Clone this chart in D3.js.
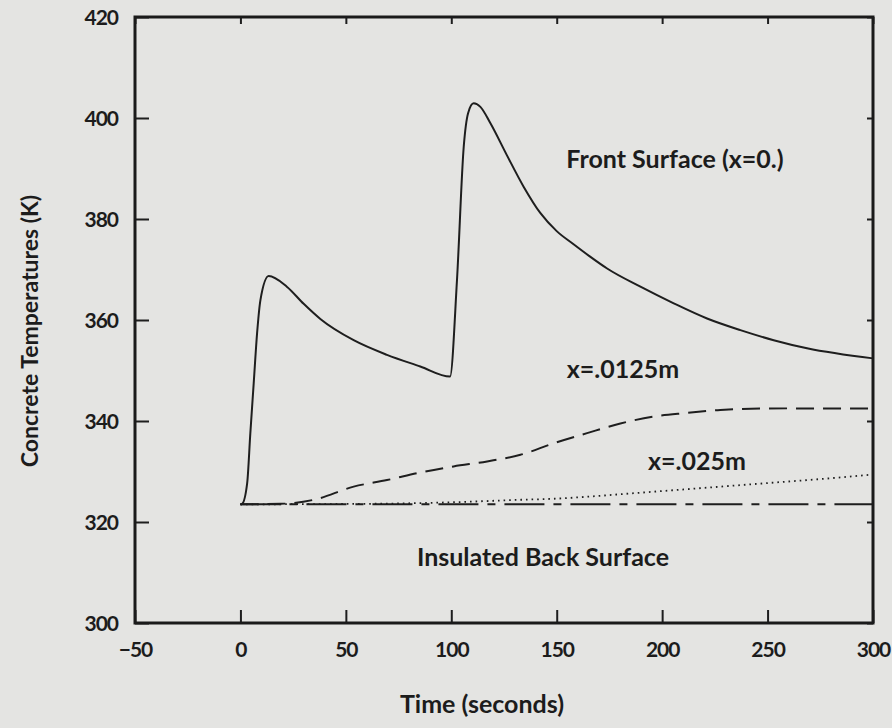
<!DOCTYPE html>
<html>
<head>
<meta charset="utf-8">
<script src="https://cdnjs.cloudflare.com/ajax/libs/d3/7.8.5/d3.min.js"></script>
<style>
  html, body { margin: 0; padding: 0; background: #e4e4e2; }
  svg { display: block; }
  text { font-family: Lato, "DejaVu Sans", sans-serif; fill: #1c1c1c; }
</style>
</head>
<body>
<div id="chart"></div>
<script>
// tick labels
var xTicks = [-50, 0, 50, 100, 150, 200, 250, 300];
var yTicks = [300, 320, 340, 360, 380, 400, 420];

// front surface (x=0.)
var frontTime = [0, 0.8, 3.2, 4.7, 6.3, 7.9, 9.5, 13.4, 22, 30, 37.9, 53.7, 69.5, 85.3, 99.4,
                 102.7, 105.9, 108, 110.6, 113.8, 118.5, 126.4, 134.3, 142.2, 150, 158, 166, 173.9,
                 189.7, 205.5, 221.3, 237.1, 252.9, 268.7, 300];
var frontTemp = [323.5, 323.6, 327.7, 337.6, 347.5, 357.4, 364, 368.7, 366.6, 363.2, 360.2, 356, 353.1, 350.8, 348.8,
                 367.9, 394.3, 401, 402.9, 402.2, 399, 392.6, 386.4, 381.2, 377.6, 375.0, 372.5, 370.2,
                 366.6, 363.3, 360.3, 358, 356, 354.4, 352.4];

// x=.0125m
var midTime = [0, 19, 34.8, 53.7, 69.5, 85.3, 101.1, 117, 132.8, 148.6, 164.4, 180.2, 196, 211.8, 227.6, 259.2, 300];
var midTemp = [323.5, 323.6, 324.4, 327, 328.3, 329.8, 331, 332, 333.3, 335.6, 337.6, 339.5, 340.9, 341.6, 342.2, 342.5, 342.5];

// x=.025m
var deepTime = [0, 60, 100, 132.8, 148.6, 164.4, 180.2, 196, 211.8, 227.6, 243.4, 259.2, 275, 300];
var deepTemp = [323.5, 323.6, 323.9, 324.4, 324.6, 325, 325.5, 326, 326.5, 327, 327.5, 328, 328.5, 329.4];

// insulated back surface
var backTime = [0, 300];
var backTemp = [323.5, 323.5];

var width = 892, height = 728;
var margin = {top: 17, right: 19, bottom: 105, left: 135};

var svg = d3.select('#chart')
    .append('svg')
    .attr('width', width)
    .attr('height', height);

var x = d3.scaleLinear().domain([-50, 300]).range([margin.left, width - margin.right]);
var y = d3.scaleLinear().domain([300, 420]).range([height - margin.bottom, margin.top]);

function pts(ts, vs){
    return ts.map(function(t, i){ return [t, vs[i]]; });
}

var line = d3.line()
    .x(function(d){ return x(d[0]); })
    .y(function(d){ return y(d[1]); })
    .curve(d3.curveMonotoneX);

//curves
var series = [
    {data: pts(backTime, backTemp), dash: '40,9,8,9', w: 2},
    {data: pts(deepTime, deepTemp), dash: '1.6,4', w: 1.8},
    {data: pts(midTime, midTemp), dash: '18,9', w: 2},
    {data: pts(frontTime, frontTemp), dash: null, w: 2}
];

svg.selectAll('path.curve')
    .data(series)
    .enter()
        .append('path')
        .attr('class', 'curve')
        .attr('d', function(d){ return line(d.data); })
        .attr('fill', 'none')
        .attr('stroke', '#1e1e1e')
        .attr('stroke-width', function(d){ return d.w; })
        .attr('stroke-dasharray', function(d){ return d.dash; })
        ;

//axes, ticks pointing inward
var axBottom = svg.append('g')
    .attr('transform', 'translate(0,' + y(300) + ')')
    .call(d3.axisBottom(x).tickValues(xTicks).tickSize(-13).tickPadding(19).tickFormat(d3.format('d')));
var axTop = svg.append('g')
    .attr('transform', 'translate(0,' + y(420) + ')')
    .call(d3.axisTop(x).tickValues(xTicks).tickSize(-7).tickFormat(''));
var axLeft = svg.append('g')
    .attr('transform', 'translate(' + x(-50) + ',0)')
    .call(d3.axisLeft(y).tickValues(yTicks).tickSize(-14).tickPadding(17).tickFormat(d3.format('d')));
var axRight = svg.append('g')
    .attr('transform', 'translate(' + x(300) + ',0)')
    .call(d3.axisRight(y).tickValues(yTicks).tickSize(-6).tickFormat(''));

[axBottom, axTop, axLeft, axRight].forEach(function(g){
    g.select('.domain').remove();
    g.selectAll('.tick line').attr('stroke', '#1e1e1e').attr('stroke-width', 2);
    g.selectAll('.tick text')
        .style('font-family', 'Lato, sans-serif')
        .style('font-size', '21px')
        .style('font-weight', 'bold')
        .style('letter-spacing', '-1px')
        .attr('fill', '#1c1c1c');
});
axLeft.selectAll('.tick text').attr('dy', '0.36em');

//frame
svg.append('rect')
    .attr('x', x(-50))
    .attr('y', y(420))
    .attr('width', x(300) - x(-50))
    .attr('height', y(300) - y(420))
    .attr('fill', 'none')
    .attr('stroke', '#1a1a1a')
    .attr('stroke-width', 3);

//labels
var labels = [
    {t: 'Front Surface (x=0.)', x: 675, y: 168},
    {t: 'x=.0125m', x: 623, y: 378},
    {t: 'x=.025m', x: 697, y: 470},
    {t: 'Insulated Back Surface', x: 543, y: 566}
];
svg.selectAll('text.lbl')
    .data(labels)
    .enter()
        .append('text')
        .attr('class', 'lbl')
        .attr('x', function(d){ return d.x; })
        .attr('y', function(d){ return d.y; })
        .attr('text-anchor', 'middle')
        .style('font-size', '25px')
        .style('font-weight', 'bold')
        .text(function(d){ return d.t; });

svg.append('text')
    .attr('x', 482)
    .attr('y', 713)
    .attr('text-anchor', 'middle')
    .style('font-size', '25px')
    .style('font-weight', 'bold')
    .text('Time (seconds)');

svg.append('text')
    .attr('transform', 'translate(38,331) rotate(-90)')
    .attr('text-anchor', 'middle')
    .style('font-size', '23px')
    .style('font-weight', 'bold')
    .text('Concrete Temperatures (K)');
</script>
</body>
</html>
